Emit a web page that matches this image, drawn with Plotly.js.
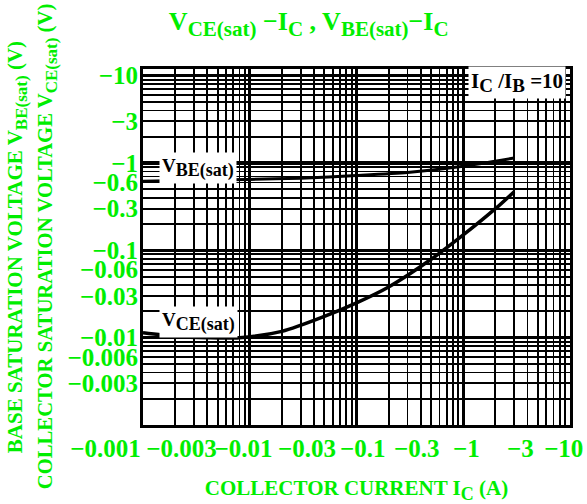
<!DOCTYPE html>
<html>
<head>
<meta charset="utf-8">
<script src="https://cdn.plot.ly/plotly-3.0.1.min.js"></script>
<style>html,body{margin:0;padding:0;background:#fff;}#chart{width:587px;height:504px;}</style>
</head>
<body>
<div id="chart"></div>
<script>
// Collector current |Ic| (A)
const icBE = [0.001, 0.003, 0.01, 0.03, 0.1, 0.3, 1, 3];
const vbeSat = [0.62, 0.635, 0.65, 0.67, 0.72, 0.78, 0.92, 1.14];
const icCE = [0.001, 0.002, 0.004, 0.008, 0.02, 0.05, 0.1, 0.2, 0.5, 1, 2, 3];
const vceSat = [0.0114, 0.0104, 0.0100, 0.0100, 0.0118, 0.0175, 0.025, 0.038, 0.079, 0.15, 0.30, 0.47];

const xTickVals = [0.001, 0.003, 0.01, 0.03, 0.1, 0.3, 1, 3, 10];
const xTickText = ["−0.001", "−0.003", "−0.01", "−0.03", "−0.1", "−0.3", "−1", "−3", "−10"];
const yTickVals = [10, 3, 1, 0.6, 0.3, 0.1, 0.06, 0.03, 0.01, 0.006, 0.003];
const yTickText = ["−10", "−3", "−1", "−0.6", "−0.3", "−0.1", "−0.06", "−0.03", "−0.01", "−0.006", "−0.003"];
const decades = [0.001, 0.01, 0.1, 1, 10];
const multipliers = [1, 2, 3, 4, 5, 6, 7, 8, 9];

const GREEN = '#00ee00';
const FONT = 'Liberation Serif';
const XRANGE = [-3, 1];
const YRANGE = [-3, 1.077];

// all grid values 1..9 per decade
const gridVals = [];
decades.slice(0, 4).forEach(d => multipliers.forEach(m => gridVals.push(+(d * m).toPrecision(3))));
gridVals.push(10);

function near(a, b) { return Math.abs(Math.log10(a) - Math.log10(b)) < 1e-6; }
function labelsFor(vals, tv, tt, pad) {
  return vals.map(v => {
    const i = tv.findIndex(t => near(t, v));
    if (i < 0) return '';
    const p = pad ? (pad[i] || [0, 0]) : [0, 0];
    return '\u00a0'.repeat(p[0]) + tt[i] + '\u00a0'.repeat(p[1]);
  });
}
// label nudges (leading, trailing nbsp) to mimic original placement
const xPad = [[0, 12], [0, 4], [0, 2], [2, 0], [2, 0], [3, 0], [1, 0], [2, 0], [0, 2]];

function sub(t, px) { return '<sub><span style="font-size:' + px + 'px">' + t + '</span></sub>'; }

const data = [
  {x: icBE, y: vbeSat, type: 'scatter', mode: 'lines', line: {color: 'black', width: 3, shape: 'spline', smoothing: 0.6}, hoverinfo: 'skip', xaxis: 'x', yaxis: 'y'},
  {x: icCE, y: vceSat, type: 'scatter', mode: 'lines', line: {color: 'black', width: 3.5, shape: 'spline', smoothing: 0.8}, hoverinfo: 'skip', xaxis: 'x2', yaxis: 'y2'}
];

const layout = {
  width: 587, height: 504,
  margin: {l: 143, r: 17, t: 69, b: 79},
  paper_bgcolor: 'white', plot_bgcolor: 'white',
  showlegend: false,
  title: {
    text: 'V' + sub('CE(sat)', 21) + ' −I' + sub('C', 21) + ' , V' + sub('BE(sat)', 21) + '−I' + sub('C', 21),
    font: {family: FONT, size: 26, color: GREEN, weight: 'bold'},
    xref: 'container', x: 0.526, xanchor: 'center',
    yref: 'container', y: 0.958, yanchor: 'middle'
  },
  xaxis: {
    type: 'log', range: XRANGE, tickmode: 'array', tickvals: gridVals,
    ticktext: labelsFor(gridVals, xTickVals, xTickText, xPad),
    tickangle: 0, ticks: '', tickfont: {family: FONT, size: 25, color: GREEN, weight: 'bold'},
    ticklabelstandoff: -1, ticklabeloverflow: 'allow',
    showgrid: true, gridcolor: 'black', gridwidth: 1.8,
    showline: true, linecolor: 'black', linewidth: 3, mirror: true, zeroline: false,
    title: {text: 'COLLECTOR CURRENT I' + sub('C', 18) + ' (A)', font: {family: FONT, size: 21, color: GREEN, weight: 'bold'}, standoff: 20}
  },
  yaxis: {
    type: 'log', range: YRANGE, tickmode: 'array', tickvals: gridVals,
    ticktext: labelsFor(gridVals, yTickVals, yTickText, null),
    ticks: '', tickfont: {family: FONT, size: 25, color: GREEN, weight: 'bold'}, ticklabelstandoff: -3,
    showgrid: true, gridcolor: 'black', gridwidth: 1.8,
    showline: true, linecolor: 'black', linewidth: 3, mirror: true, zeroline: false
  },
  xaxis2: {
    type: 'log', range: XRANGE, overlaying: 'x', anchor: 'y2', tickmode: 'array', tickvals: decades,
    showticklabels: false, ticks: '', showgrid: true, gridcolor: 'black', gridwidth: 3.4,
    showline: false, zeroline: false
  },
  yaxis2: {
    type: 'log', range: YRANGE, overlaying: 'y', anchor: 'x2', side: 'left', tickmode: 'array', tickvals: decades,
    showticklabels: false, ticks: '', showgrid: true, gridcolor: 'black', gridwidth: 3.4,
    showline: false, zeroline: false
  },
  annotations: [
    {text: 'BASE SATURATION VOLTAGE V' + sub('BE(sat)', 17) + ' (V)', xref: 'paper', yref: 'paper', x: -0.297, y: 0.5, xanchor: 'center', yanchor: 'middle',
     textangle: -90, showarrow: false, font: {family: FONT, size: 21, color: GREEN, weight: 'bold'}},
    {text: 'COLLECTOR SATURATION VOLTAGE V' + sub('CE(sat)', 17) + ' (V)', xref: 'paper', yref: 'paper', x: -0.224, y: 0.503, xanchor: 'center', yanchor: 'middle',
     textangle: -90, showarrow: false, font: {family: FONT, size: 20.7, color: GREEN, weight: 'bold'}},
    {text: 'V' + sub('BE(sat)', 18), xref: 'paper', yref: 'paper', x: 0.038, y: 0.722, xanchor: 'left', yanchor: 'middle',
     showarrow: false, bgcolor: 'white', borderpad: 2, font: {family: FONT, size: 19, color: 'black', weight: 'bold'}},
    {text: 'V' + sub('CE(sat)', 18), xref: 'paper', yref: 'paper', x: 0.038, y: 0.289, xanchor: 'left', yanchor: 'middle',
     showarrow: false, bgcolor: 'white', borderpad: 2, font: {family: FONT, size: 19, color: 'black', weight: 'bold'}},
    {text: 'I' + sub('C', 19) + ' /I' + sub('B', 19) + ' =10', xref: 'paper', yref: 'paper', x: 0.99, y: 0.963, xanchor: 'right', yanchor: 'middle',
     showarrow: false, bgcolor: 'white', borderpad: 2, font: {family: FONT, size: 21, color: 'black', weight: 'bold'}}
  ]
};

Plotly.newPlot('chart', data, layout, {staticPlot: true, displayModeBar: false});
</script>
</body>
</html>
